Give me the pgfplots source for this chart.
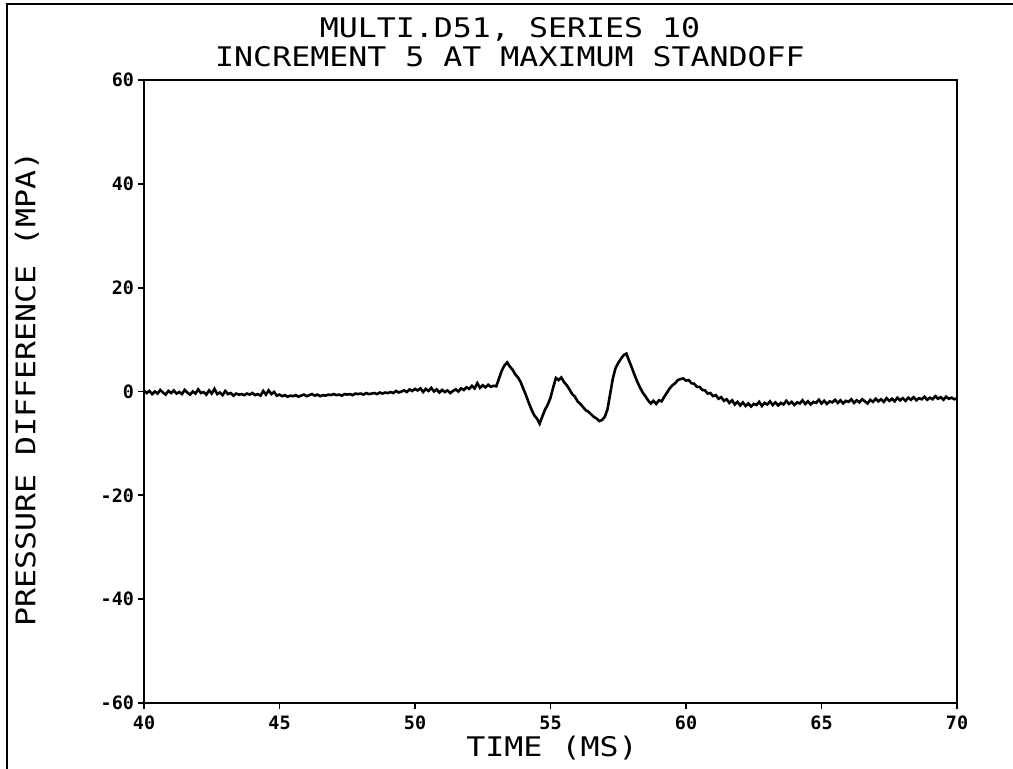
\documentclass[border=0pt]{standalone}
\usepackage{fontspec}
\setmonofont{DejaVu Sans Mono}
\newfontfamily\plotfont[FakeStretch=1.17]{DejaVu Sans Mono}
\newfontfamily\tickfont{DejaVu Sans Mono Bold}
\usepackage{pgfplots}
\pgfplotsset{compat=1.18}
\begin{document}
\begin{tikzpicture}[x=1pt,y=1pt]
\useasboundingbox (0,0) rectangle (506.5,384.5);
\draw[line width=0.9pt] (3.5,0) -- (3.5,382.5) -- (506.5,382.5);
\begin{axis}[
  at={(72pt,33pt)}, anchor=south west,
  scale only axis, width=406.5pt, height=311.5pt,
  xmin=40, xmax=70, ymin=-60, ymax=60,
  xtick={40,45,...,70}, ytick={-60,-40,...,60},
  tick align=outside, tick pos=left,
  major tick length=3pt,
  axis line style={line width=1.1pt},
  every tick/.style={line width=0.9pt,black},
  /pgf/number format/assume math mode=true,
  tick label style={font=\tickfont\fontsize{9.2}{10}\selectfont},
  xticklabel style={yshift=0pt},
  yticklabel style={xshift=1.5pt},
  clip=false,
]
\addplot[black, line width=1.3pt] coordinates {
(40.0,0.2)(40.1,-0.3)(40.2,0.1)(40.3,-0.5)(40.4,0.0)(40.5,-0.4)(40.6,0.3)(40.7,-0.2)(40.8,-0.6)(40.9,0.1)
(41.0,-0.3)(41.1,0.2)(41.2,-0.4)(41.3,-0.1)(41.4,-0.5)(41.5,0.3)(41.6,-0.2)(41.7,-0.6)(41.8,0.0)(41.9,-0.4)
(42.0,0.4)(42.1,-0.3)(42.2,-0.1)(42.3,-0.6)(42.4,0.2)(42.5,-0.4)(42.6,0.5)(42.7,-0.5)(42.8,-0.2)(42.9,-0.7)
(43.0,0.1)(43.1,-0.5)(43.2,-0.3)(43.3,-0.8)(43.4,-0.4)(43.5,-0.6)(43.6,-0.5)(43.7,-0.7)(43.8,-0.4)(43.9,-0.6)
(44.0,-0.3)(44.1,-0.7)(44.2,-0.5)(44.3,-0.8)(44.4,0.1)(44.5,-0.6)(44.6,0.2)(44.7,-0.5)(44.8,-0.1)(44.9,-0.8)
(45.0,-0.6)(45.1,-0.9)(45.2,-0.7)(45.3,-1.0)(45.4,-0.8)(45.5,-0.9)(45.6,-0.7)(45.7,-1.0)(45.8,-0.8)(45.9,-0.6)
(46.0,-0.9)(46.1,-0.7)(46.2,-0.5)(46.3,-0.8)(46.4,-0.6)(46.5,-0.9)(46.6,-0.7)(46.7,-0.8)(46.8,-0.6)(46.9,-0.7)
(47.0,-0.5)(47.1,-0.7)(47.2,-0.6)(47.3,-0.8)(47.4,-0.5)(47.5,-0.6)(47.6,-0.5)(47.7,-0.7)(47.8,-0.4)(47.9,-0.5)
(48.0,-0.4)(48.1,-0.6)(48.2,-0.3)(48.3,-0.5)(48.4,-0.4)(48.5,-0.3)(48.6,-0.5)(48.7,-0.2)(48.8,-0.4)(48.9,-0.2)
(49.0,-0.3)(49.1,-0.1)(49.2,-0.3)(49.3,0.1)(49.4,-0.2)(49.5,0.0)(49.6,0.2)(49.7,-0.1)(49.8,0.4)(49.9,0.1)
(50.0,0.5)(50.1,0.2)(50.2,0.6)(50.3,-0.1)(50.4,0.5)(50.5,0.1)(50.6,0.7)(50.7,0.0)(50.8,0.4)(50.9,-0.2)
(51.0,0.3)(51.1,-0.1)(51.2,0.2)(51.3,-0.3)(51.4,0.1)(51.5,0.4)(51.6,0.0)(51.7,0.6)(51.8,0.3)(51.9,0.8)
(52.0,0.5)(52.1,1.1)(52.2,0.6)(52.3,1.6)(52.4,0.7)(52.5,1.2)(52.6,0.8)(52.7,1.3)(52.8,0.9)(52.9,1.1)
(53.0,1.0)(53.1,2.5)(53.2,4.0)(53.3,5.0)(53.4,5.6)(53.5,4.8)(53.6,4.2)(53.7,3.3)(53.8,2.7)(53.9,1.8)
(54.0,0.5)(54.1,-0.8)(54.2,-2.2)(54.3,-3.5)(54.4,-4.6)(54.5,-5.2)(54.6,-6.2)(54.7,-4.8)(54.8,-3.5)(54.9,-2.5)
(55.0,-1.2)(55.1,0.8)(55.2,2.6)(55.3,2.2)(55.4,2.7)(55.5,1.8)(55.6,1.2)(55.7,0.4)(55.8,-0.5)(55.9,-1.0)
(56.0,-1.9)(56.1,-2.4)(56.2,-3.0)(56.3,-3.6)(56.4,-3.9)(56.5,-4.4)(56.6,-4.9)(56.7,-5.2)(56.8,-5.7)(56.9,-5.5)
(57.0,-4.9)(57.1,-3.5)(57.2,-0.5)(57.3,2.5)(57.4,4.5)(57.5,5.5)(57.6,6.3)(57.7,7.0)(57.8,7.3)(57.9,5.9)
(58.0,4.6)(58.1,3.2)(58.2,1.9)(58.3,0.8)(58.4,-0.2)(58.5,-0.9)(58.6,-1.7)(58.7,-2.3)(58.8,-1.8)(58.9,-2.4)
(59.0,-1.7)(59.1,-1.9)(59.2,-1.0)(59.3,-0.2)(59.4,0.6)(59.5,1.2)(59.6,1.6)(59.7,2.2)(59.8,2.4)(59.9,2.5)
(60.0,2.1)(60.1,2.2)(60.2,1.6)(60.3,1.5)(60.4,0.9)(60.5,0.9)(60.6,0.3)(60.7,0.2)(60.8,-0.4)(60.9,-0.3)
(61.0,-0.9)(61.1,-0.7)(61.2,-1.4)(61.3,-1.1)(61.4,-1.8)(61.5,-1.5)(61.6,-2.2)(61.7,-1.7)(61.8,-2.5)(61.9,-2.0)
(62.0,-2.7)(62.1,-2.1)(62.2,-2.8)(62.3,-2.3)(62.4,-2.9)(62.5,-2.4)(62.6,-2.6)(62.7,-2.0)(62.8,-2.8)(62.9,-2.2)
(63.0,-2.5)(63.1,-1.9)(63.2,-2.6)(63.3,-2.1)(63.4,-2.7)(63.5,-2.2)(63.6,-2.5)(63.7,-1.8)(63.8,-2.4)(63.9,-2.0)
(64.0,-2.6)(64.1,-2.1)(64.2,-2.3)(64.3,-1.7)(64.4,-2.4)(64.5,-1.9)(64.6,-2.5)(64.7,-2.0)(64.8,-2.2)(64.9,-1.6)
(65.0,-2.3)(65.1,-1.8)(65.2,-2.4)(65.3,-1.9)(65.4,-2.1)(65.5,-1.6)(65.6,-2.2)(65.7,-1.7)(65.8,-2.3)(65.9,-1.8)
(66.0,-2.0)(66.1,-1.5)(66.2,-2.2)(66.3,-1.7)(66.4,-2.1)(66.5,-1.5)(66.6,-1.9)(66.7,-2.3)(66.8,-1.6)(66.9,-2.0)
(67.0,-1.4)(67.1,-1.9)(67.2,-1.5)(67.3,-2.0)(67.4,-1.3)(67.5,-1.8)(67.6,-1.4)(67.7,-1.9)(67.8,-1.2)(67.9,-1.7)
(68.0,-1.3)(68.1,-1.8)(68.2,-1.2)(68.3,-1.6)(68.4,-1.1)(68.5,-1.7)(68.6,-1.3)(68.7,-1.5)(68.8,-1.0)(68.9,-1.6)
(69.0,-1.2)(69.1,-1.5)(69.2,-0.9)(69.3,-1.4)(69.4,-1.1)(69.5,-1.6)(69.6,-1.0)(69.7,-1.4)(69.8,-1.2)(69.9,-1.5)
(70.0,-1.3)
};
\end{axis}
\node[font=\plotfont\fontsize{13.5}{16}\selectfont, anchor=center] at (255,370) {MULTI.D51, SERIES 10};
\node[font=\plotfont\fontsize{13.5}{16}\selectfont, anchor=center] at (255,356) {INCREMENT 5 AT MAXIMUM STANDOFF};
\node[font=\plotfont\fontsize{13.5}{16}\selectfont, anchor=center] at (276,10.5) {TIME (MS)};
\node[font=\plotfont\fontsize{13.5}{16}\selectfont, anchor=center, rotate=90] at (13.5,190) {PRESSURE DIFFERENCE (MPA)};
\end{tikzpicture}
\end{document}
